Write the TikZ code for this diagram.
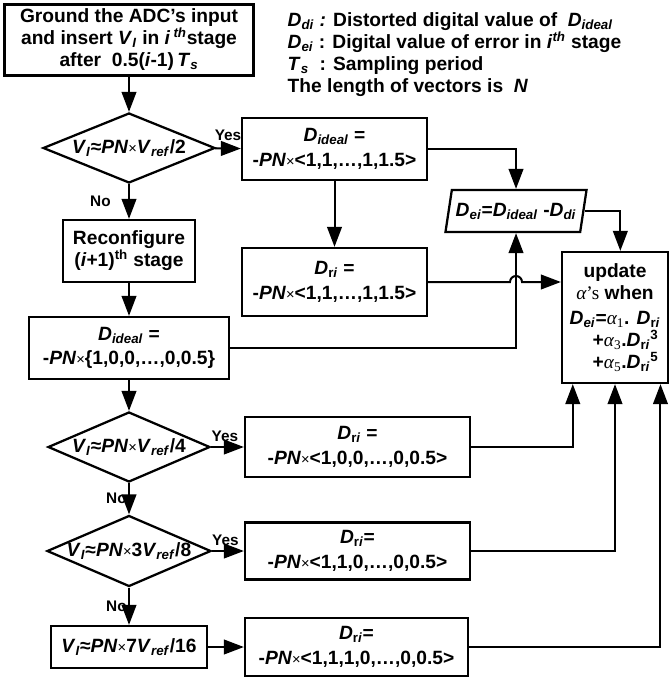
\documentclass[tikz,border=0pt]{standalone}
\usepackage{fontspec}
\setmainfont{Liberation Sans}
\newfontfamily\grk{Liberation Serif}
\usetikzlibrary{shapes.geometric,arrows.meta,calc}

\newcommand\tms{{\mdseries\fontsize{11}{11}\selectfont ×}}
\newcommand\Vin{\textit{V}\textsubscript{\textit{I}}}
\newcommand\Vref{\textit{V}\textsubscript{\textit{ref}}}
\newcommand\PN{\textit{PN}}
\newcommand\Dri{\textit{D}\textsubscript{r\textit{i}}}
\newcommand\Did{\textit{D}\textsubscript{\textit{ideal}}}
\newcommand\alp[1]{{\grk\mdseries\itshape α}\textsubscript{\grk\mdseries #1}}

\tikzset{
  txt/.style={font=\bfseries\fontsize{14.4}{16.5}\selectfont},
  box/.style={txt, draw, line width=1.7pt, rectangle, align=center, inner sep=1pt},
  dec/.style={txt, draw, line width=1.7pt, diamond, inner sep=0pt},
  io/.style={txt, draw, line width=1.7pt, trapezium, trapezium left angle=70,
    trapezium right angle=110, trapezium stretches=true, inner sep=0pt},
  lbl/.style={font=\bfseries\fontsize{11.5}{13}\selectfont, inner sep=1pt},
  arr/.style={line width=1.5pt, -{Triangle[length=15pt,width=11pt]}},
}

\begin{document}
\begin{tikzpicture}[x=0.75pt,y=0.75pt,yscale=-1,xscale=1]
\useasboundingbox (0,0) rectangle (669,684);

%Shape: Rectangle
\node[box, minimum width=186.75pt, minimum height=53.25pt] (start) at (129,40)
  {Ground the ADC’s input\\and insert \Vin\ in \textit{i}\,\textsuperscript{\textit{th}}stage\\after \ 0.5(\textit{i}-1)\,\textit{T}\textsubscript{\textit{s}}};

% Text Node
\node[txt, anchor=north west, align=left] (legend) at (283,8)
  {\textit{D}\textsubscript{\textit{di}} \textit{:} Distorted digital value of \ \Did\\
   \textit{D}\textsubscript{\textit{ei}} : Digital value of error in \textit{i}\textsuperscript{\textit{th}} stage\\
   \textit{T}\textsubscript{\textit{s}} \ : Sampling period\\
   The length of vectors is \ \textit{N}};

%Shape: Diamond
\node[dec, aspect=2.46, minimum width=129pt, minimum height=52.5pt] (dec1) at (129,148)
  {\Vin≈\PN\tms\Vref/2};
%Shape: Rectangle
\node[box, minimum width=138.75pt, minimum height=46.5pt] (ideal1) at (334.5,149)
  {\Did\ =\\[2pt]-\PN\tms<1,1,…,1,1.5>};
%Shape: Rectangle
\node[box, minimum width=99pt, minimum height=46.5pt] (reconf) at (129,251)
  {Reconfigure\\(\textit{i}+1)\textsuperscript{th} stage};
%Shape: Rectangle
\node[box, minimum width=138.75pt, minimum height=51pt] (dri1) at (334.5,282)
  {\Dri\ =\\[2pt]-\PN\tms<1,1,…,1,1.5>};
%Shape: Parallelogram
\node[io, minimum width=106.5pt, minimum height=31.5pt] (err) at (516,211)
  {\textit{D}\textsubscript{\textit{ei}}=\Did\ -\textit{D}\textsubscript{\textit{di}}};
%Shape: Rectangle
\node[box, minimum width=79.5pt, minimum height=98.25pt] (upd) at (615,317.5)
  {update\\{\grk\mdseries\itshape α}{\grk\mdseries ’s} when\\[2pt]
   \textit{D}\textsubscript{\textit{ei}}=\alp{1}. \Dri\\
   \hspace*{1.1em}+\alp{3}.\Dri\textsuperscript{3}\\
   \hspace*{1.1em}+\alp{5}.\Dri\textsuperscript{5}};
%Shape: Rectangle
\node[box, minimum width=150pt, minimum height=46.5pt] (ideal2) at (129,348)
  {\Did\ =\\[2pt]-\PN\tms\{1,0,0,…,0,0.5\}};
%Shape: Diamond
\node[dec, aspect=2.31, minimum width=121.5pt, minimum height=52.5pt] (dec2) at (129,447)
  {\Vin≈\PN\tms\Vref/4};
%Shape: Rectangle
\node[box, minimum width=168.75pt, minimum height=45pt] (dri2) at (357.5,447)
  {\Dri\ =\\[2pt]-\PN\tms<1,0,0,…,0,0.5>};
%Shape: Diamond
\node[dec, aspect=2.31, minimum width=121.5pt, minimum height=52.5pt] (dec3) at (129,551)
  {\Vin≈\PN\tms3\Vref/8};
%Shape: Rectangle
\node[box, minimum width=168.75pt, minimum height=42.75pt] (dri3) at (357.5,551)
  {\Dri=\\[2pt]-\PN\tms<1,1,0,…,0,0.5>};
%Shape: Rectangle
\node[box, minimum width=117pt, minimum height=31.5pt] (v7) at (129,647)
  {\Vin≈\PN\tms7\Vref/16};
%Shape: Rectangle
\node[box, minimum width=167.25pt, minimum height=43.5pt] (dri4) at (356.5,647)
  {\Dri=\\[2pt]-\PN\tms<1,1,1,0,…,0,0.5>};

%Straight Lines
\draw[arr] (start) -- (dec1);
\draw[arr] (dec1) -- node[lbl, above=4pt] (yes1) {Yes} (ideal1);
\draw[arr] (dec1) -- node[lbl, left=12pt] (no1) {No} (reconf);
\draw[arr] (reconf) -- (ideal2);
\draw[arr] (ideal2) -- (dec2);
\draw[arr] (dec2) -- node[lbl, above=2pt, xshift=-2pt] (yes2) {Yes} (dri2);
\draw[arr] (dec2) -- node[lbl, left=0pt] (no2) {No} (dec3);
\draw[arr] (dec3) -- node[lbl, above=2pt, xshift=-2pt] (yes3) {Yes} (dri3);
\draw[arr] (dec3) -- node[lbl, left=0pt] (no3) {No} (v7);
\draw[arr] (v7) -- (dri4);
\draw[arr] (ideal1.south -| dri1.north) -- (dri1.north);

%Connectors to the error and update boxes
\draw[arr] (ideal1.east) -| (err.north);
\draw[arr] (err.east) -| ([xshift=4pt]upd.north);
\draw[arr] (ideal2.east) -| (err.south);
\draw[arr] (dri1.east) -- ([xshift=-4.5pt]dri1.east -| err.south)
  arc[start angle=180, end angle=360, radius=4.5pt] -- (dri1.east -| upd.west);
\draw[arr] (dri2.east) -| ($(upd.south west)!0.11!(upd.south east)$);
\draw[arr] (dri3.east) -| (upd.south);
\draw[arr] (dri4.east) -| ($(upd.south west)!0.92!(upd.south east)$);

\end{tikzpicture}
\end{document}
